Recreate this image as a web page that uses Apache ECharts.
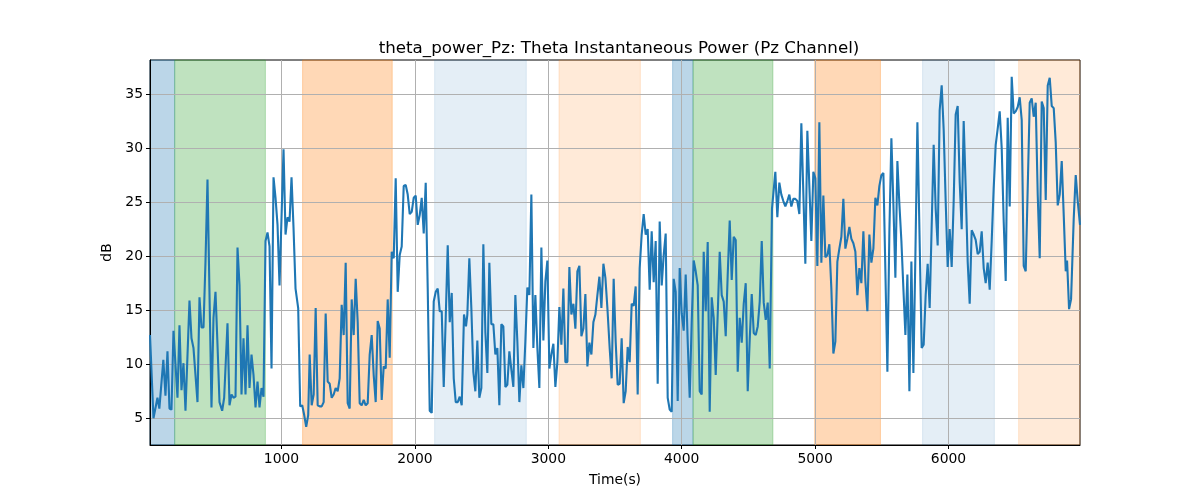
<!DOCTYPE html>
<html>
<head>
<meta charset="utf-8">
<title>theta_power_Pz</title>
<script src="https://cdn.jsdelivr.net/npm/echarts@6/dist/echarts.min.js"></script>
<style>
  html, body { margin: 0; padding: 0; background: #fff; }
  #chart { width: 1200px; height: 500px; }
</style>
</head>
<body>
<div id="chart"></div>
<script>
// theta power readings [time (s), dB], split by stretch of the recording
const powerA = [[14,12.7],[40,5.0],[70,6.9],[84,5.9],[114,10.4],[130,7.1],[145,11.2],[160,5.9],[175,5.8],[190,13.1],[220,6.9],[235,13.6],[250,7.6],[265,10.1],[280,5.7],[310,15.9],[325,12.4],[340,11.5],[370,6.5],[385,16.2],[400,13.4],[415,13.4],[430,19.5],[445,27.1],[475,6.0],[490,14.3],[505,16.7],[520,11.8],[535,6.5],[555,5.7],[570,6.9],[595,13.8],[610,6.2],[625,7.2],[640,6.9],[655,7.0],[670,20.8],[685,17.3],[700,7.2],[715,12.4],[730,7.2],[745,13.6],[760,7.8],[775,10.9],[790,9.0],[805,6.0],[820,8.4],[835,6.0],[850,7.8],[865,7.0],[880,21.4],[895,22.2],[910,20.9],[925,9.6],[940,27.3],[955,25.4],[970,22.9],[985,17.3],[1015,29.9],[1030,22.0],[1045,23.6],[1060,23.2],[1075,27.3],[1090,22.6],[1105,17.0],[1125,15.2],[1140,6.1],[1155,6.2],[1170,5.3],[1185,4.2],[1200,5.3],[1211,10.9]];
const powerB = [[1226,6.2],[1241,7.2],[1256,15.2],[1271,6.2],[1286,6.1],[1301,6.1],[1316,6.5],[1331,14.7],[1346,8.4],[1361,8.2],[1376,6.9],[1391,7.2],[1406,7.8],[1421,7.5],[1436,8.7],[1451,15.5],[1466,12.7],[1481,19.4],[1496,6.4],[1511,5.9],[1526,16.0],[1541,12.7],[1556,17.9],[1571,13.9],[1586,6.4],[1601,6.2],[1616,6.7],[1631,6.2],[1646,6.4],[1661,10.9],[1676,12.7],[1691,9.0],[1706,6.5],[1721,14.0],[1736,13.3],[1751,6.7],[1766,9.8],[1781,9.6],[1796,16.0],[1811,10.6],[1826,20.4],[1841,19.8],[1856,27.2],[1871,16.7],[1886,20.1],[1901,20.9],[1916,26.5],[1931,26.6],[1946,25.7],[1961,23.9],[1976,24.1],[1991,25.4],[2006,25.6],[2021,22.9],[2036,23.8],[2051,25.4],[2066,22.1],[2081,26.8],[2096,17.0],[2111,5.7],[2126,5.5],[2141,15.8],[2156,16.7],[2171,17.0],[2186,14.9],[2201,14.9],[2216,7.9],[2231,14.3],[2246,21.0],[2261,13.9],[2276,16.6],[2291,8.7],[2306,6.5],[2321,6.5],[2336,7.0],[2351,6.2]];
const powerC = [[2368,14.6],[2383,13.5],[2393,14.6],[2408,19.8],[2423,15.2],[2438,9.3],[2453,7.5],[2468,12.2],[2483,6.9],[2498,7.8],[2513,21.1],[2528,13.0],[2543,9.2],[2558,19.4],[2573,13.7],[2588,13.7],[2603,10.9],[2618,11.5],[2633,6.2],[2648,13.7],[2663,13.5],[2678,7.9],[2693,8.1],[2708,11.2],[2723,9.5],[2738,7.9],[2753,16.4],[2768,12.1],[2783,6.5],[2798,9.9],[2813,7.8],[2828,12.1],[2843,17.1],[2858,16.4],[2873,25.7],[2888,11.5],[2903,16.4],[2918,11.5],[2933,7.8],[2948,20.8],[2963,12.2],[2978,17.7],[2993,19.6],[3008,9.6],[3023,10.9],[3038,11.9],[3053,7.9],[3068,10.2],[3083,15.3],[3098,11.8],[3113,17.0],[3128,10.2],[3143,10.2],[3158,19.0],[3173,14.6],[3188,15.6],[3203,13.3],[3218,18.6],[3233,19.1],[3248,12.6],[3263,13.3],[3278,16.5],[3293,9.8],[3308,12.0],[3323,10.9],[3338,13.9],[3353,14.6],[3368,16.4],[3383,18.1],[3398,15.2],[3413,19.3],[3428,18.0],[3443,15.2]];
const powerD = [[3460,11.5],[3475,8.7],[3490,17.9],[3505,12.1],[3520,8.1],[3535,8.2],[3550,12.4],[3565,6.4],[3580,7.5],[3595,11.6],[3610,10.2],[3625,15.6],[3640,15.4],[3655,17.2],[3670,7.2],[3685,18.9],[3700,22.0],[3715,23.9],[3730,22.0],[3745,22.5],[3760,16.9],[3775,22.3],[3790,17.6],[3805,21.4],[3820,8.2],[3835,23.2],[3850,17.3],[3865,20.1],[3880,22.1],[3895,6.9],[3910,5.8],[3925,5.6],[3940,17.9],[3955,16.7],[3970,6.6],[3985,18.9],[4000,14.7],[4015,13.1],[4030,18.3],[4045,12.1],[4060,6.9],[4075,13.9],[4090,19.6],[4105,18.6],[4120,17.3],[4135,7.5],[4150,7.2],[4165,20.4],[4180,14.9],[4195,21.3],[4210,5.6],[4225,16.2],[4240,14.3],[4255,9.0],[4270,14.6],[4285,20.4],[4300,16.4],[4315,15.8],[4330,12.6],[4345,18.3],[4360,23.3],[4375,17.8],[4390,21.8],[4405,21.5],[4420,9.3],[4435,14.3],[4450,12.0],[4465,15.6],[4480,17.5],[4495,7.5],[4510,12.3],[4525,16.5],[4540,12.9],[4555,12.7],[4570,13.5],[4585,15.8],[4600,21.4],[4615,15.7],[4630,14.1],[4645,15.7],[4660,9.6]];
const powerE = [[4677,24.4],[4702,27.8],[4717,23.6],[4732,26.8],[4747,25.7],[4762,25.1],[4777,24.6],[4792,25.1],[4807,25.7],[4822,24.6],[4837,25.3],[4852,25.3],[4867,25.1],[4882,23.9],[4897,32.3],[4927,19.3],[4942,31.6],[4972,21.4],[4987,27.8],[5002,27.2],[5017,19.1],[5032,32.4],[5047,19.4],[5062,25.6],[5077,19.9],[5092,20.1],[5107,21.1],[5122,17.0],[5137,11.0],[5152,12.1],[5167,19.5],[5182,20.7],[5197,21.8],[5212,25.3],[5227,20.7],[5242,21.6],[5257,22.7],[5272,21.6],[5287,21.2],[5302,20.4],[5317,16.4],[5332,18.9],[5347,17.5],[5362,22.3],[5377,17.7],[5392,14.9],[5407,22.0],[5422,19.4],[5437,20.7],[5452,25.4],[5467,24.7],[5482,26.5],[5497,27.5],[5512,27.7],[5527,18.6],[5542,9.3],[5557,22.3],[5572,30.9],[5587,24.8],[5602,18.0],[5617,28.8],[5632,24.8],[5647,21.4],[5662,17.0],[5677,12.7],[5692,18.3],[5707,7.5],[5722,19.5],[5737,9.2],[5752,20.1],[5767,32.4]];
const powerF = [[5799,11.5],[5814,11.8],[5829,16.4],[5844,19.3],[5859,15.2],[5889,30.3],[5904,24.4],[5919,21.0],[5934,33.5],[5949,35.8],[5964,31.7],[5979,25.1],[5994,19.0],[6009,22.5],[6024,19.0],[6039,25.1],[6054,33.1],[6069,33.9],[6084,26.9],[6099,22.5],[6114,32.5],[6129,26.3],[6144,19.5],[6159,15.6],[6174,22.4],[6189,22.0],[6204,21.5],[6219,20.2],[6234,20.4],[6249,22.3],[6264,18.9],[6279,17.5],[6294,19.4],[6309,16.9],[6324,21.4],[6339,26.3],[6354,30.3],[6369,31.8],[6384,33.4],[6399,30.0],[6414,23.2],[6429,17.7],[6444,32.8],[6459,24.6],[6474,36.6],[6489,33.2],[6504,33.4],[6519,33.8],[6534,34.7],[6549,32.6],[6564,19.1],[6579,18.6],[6594,26.3],[6609,34.2],[6624,34.6],[6639,32.9],[6654,34.2],[6669,25.7],[6684,19.8],[6699,34.3],[6714,33.7],[6729,25.2],[6744,35.8],[6759,36.5],[6774,33.9],[6789,33.7],[6804,30.5],[6819,24.7],[6834,25.7],[6849,28.8],[6864,23.8],[6879,18.6],[6889,19.6],[6904,15.1],[6919,16.0],[6939,23.5],[6954,27.5],[6969,25.1],[6986,22.9]];

// shaded stretches (start, end, kind)
const spanStart = [14, 199, 1158, 2148, 3080, 3932, 4085, 4997, 5806, 6526];
const spanEnd   = [199, 879, 1830, 2835, 3690, 4085, 4684, 5490, 6344, 6986];
const spanKind  = ['blue', 'green', 'orange', 'paleBlue', 'paleOrange', 'blue', 'green', 'orange', 'paleBlue', 'paleOrange'];

const xTicks = [1000, 2000, 3000, 4000, 5000, 6000];
const yTicks = [5, 10, 15, 20, 25, 30, 35];

const spanColors = {
    blue: 'rgba(31,119,180,0.3)',
    green: 'rgba(44,160,44,0.3)',
    orange: 'rgba(255,127,14,0.3)',
    paleBlue: 'rgba(31,119,180,0.12)',
    paleOrange: 'rgba(255,127,14,0.16)'
};

const power = [].concat(powerA, powerB, powerC, powerD, powerE, powerF);

const areas = spanStart.map((s, i) => [
    {xAxis: s, itemStyle: {color: spanColors[spanKind[i]], borderColor: spanColors[spanKind[i]], borderWidth: 1}},
    {xAxis: spanEnd[i]}
]);

const font = 'DejaVu Sans';
const chart = echarts.init(document.getElementById('chart'));

chart.setOption({
    animation: false,
    backgroundColor: '#fff',
    textStyle: {fontFamily: font},
    title: {
        text: 'theta_power_Pz: Theta Instantaneous Power (Pz Channel)',
        left: 614,
        top: 35,
        textAlign: 'center',
        textStyle: {fontFamily: font, fontSize: 16.7, fontWeight: 'normal', color: '#000'}
    },
    grid: {
        left: 150, right: 120, top: 60, bottom: 55,
        show: true, borderColor: '#000', borderWidth: 1, backgroundColor: 'transparent'
    },
    xAxis: {
        type: 'value',
        min: 14,
        max: 6986,
        z: 2,
        name: 'Time(s)',
        nameLocation: 'middle',
        nameGap: 28,
        nameTextStyle: {fontFamily: font, fontSize: 13.9, color: '#000'},
        axisLine: {onZero: false, lineStyle: {color: '#000', width: 1}},
        axisTick: {customValues: xTicks, length: 4, lineStyle: {color: '#000'}},
        axisLabel: {customValues: xTicks, margin: 7, fontFamily: font, fontSize: 13.9, color: '#000',
            formatter: (v) => String(v)},
        splitLine: {show: true, lineStyle: {color: '#b0b0b0', width: 1}}
    },
    yAxis: {
        type: 'value',
        min: 2.53,
        max: 38.15,
        z: 2,
        name: 'dB',
        nameLocation: 'middle',
        nameGap: 30,
        nameRotate: 90,
        nameTextStyle: {fontFamily: font, fontSize: 13.9, color: '#000'},
        axisLine: {onZero: false, lineStyle: {color: '#000', width: 1}},
        axisTick: {customValues: yTicks, length: 4, lineStyle: {color: '#000'}},
        axisLabel: {customValues: yTicks, margin: 7, fontFamily: font, fontSize: 13.9, color: '#000'},
        splitLine: {show: true, lineStyle: {color: '#b0b0b0', width: 1}}
    },
    series: [
        {
            name: 'spans',
            type: 'line',
            data: [],
            silent: true,
            markArea: {silent: true, z: 1, data: areas}
        },
        {
            name: 'theta power',
            type: 'line',
            z: 3,
            data: power,
            showSymbol: false,
            symbol: 'none',
            lineStyle: {color: '#1f77b4', width: 2.1},
            itemStyle: {color: '#1f77b4'}
        }
    ]
});
</script>
</body>
</html>
